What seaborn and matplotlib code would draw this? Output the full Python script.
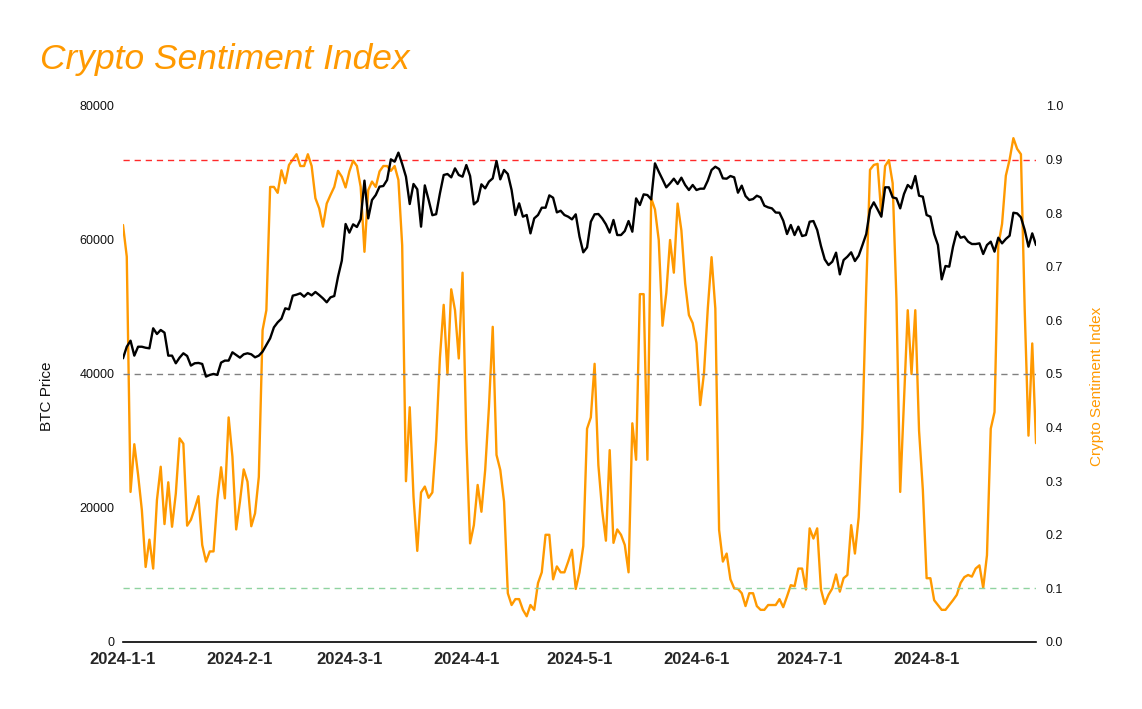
import pandas as pd
import seaborn as sns
import matplotlib.pyplot as plt

sns.set_style('white')
plt.rcParams['font.family'] = ['Liberation Sans', 'DejaVu Sans']

# daily values, 2024-01-01 .. 2024-08-30
dates = pd.date_range('2024-01-01', periods=243, freq='D')

btc_price = [
    42340, 44070, 44970, 42740, 44070, 44070, 43920, 43830, 46820, 45970,
    46570, 46170, 42740, 42740, 41600, 42440, 43090, 42690, 41250, 41600,
    41650, 41500, 39610, 39860, 40010, 39860, 41700, 42000, 42000, 43240,
    42840, 42440, 42940, 43090, 42940, 42490, 42740, 43340, 44320, 45320,
    46960, 47710, 48260, 49800, 49650, 51690, 51840, 52040, 51540, 52090,
    51740, 52240, 51790, 51290, 50700, 51440, 51640, 54530, 56920, 62390,
    61100, 62340, 61940, 63090, 68860, 63230, 65970, 66720, 67960, 68060,
    68960, 72040, 71690, 73040, 71350, 69450, 65370, 68360, 67570, 61990,
    68150, 66000, 63700, 63850, 66950, 69700, 69850, 69350, 70690, 69700,
    69450, 71190, 69550, 65320, 65820, 68310, 67710, 68710, 69200, 71790,
    69050, 70450, 69850, 67460, 63730, 65470, 63480, 63730, 60990, 63230,
    63730, 64820, 64820, 66660, 66310, 64120, 64370, 63730, 63480, 63080,
    63830, 60500, 58160, 58900, 62730, 63830, 63880, 63230, 62340, 61100,
    62990, 60740, 60740, 61340, 62830, 61240, 66210, 65220, 66810, 66710,
    66060, 71440, 70200, 69050, 67860, 68460, 69150, 68360, 69300, 68210,
    67460, 68210, 67460, 67660, 67660, 68860, 70450, 70940, 70590, 69200,
    69150, 69550, 69350, 67060, 68110, 66560, 65970, 66110, 66610, 66360,
    65120, 64870, 64720, 64100, 64070, 62880, 60890, 62240, 60740, 61990,
    60590, 60740, 62730, 62830, 61490, 59100, 57110, 56260, 56760, 58110,
    54870, 57010, 57510, 58160, 56860, 57660, 59250, 60890, 64570, 65620,
    64570, 63480, 67860, 67860, 66360, 66210, 64720, 66860, 68210, 67710,
    69550, 66610, 66460, 63730, 63480, 60890, 59250, 54130, 56120, 56020,
    59000, 61240, 60340, 60500, 59750, 59400, 59400, 59500, 57910, 59250,
    59750, 58260, 60340, 59500, 60150, 60640, 64070, 63970, 63380, 61490,
    59000, 60990, 59250,
]

sentiment = [
    0.778, 0.719, 0.280, 0.369, 0.312, 0.246, 0.140, 0.191, 0.137, 0.265,
    0.327, 0.220, 0.298, 0.215, 0.277, 0.380, 0.370, 0.217, 0.228, 0.249,
    0.272, 0.181, 0.150, 0.169, 0.169, 0.265, 0.326, 0.268, 0.419, 0.346,
    0.210, 0.262, 0.322, 0.299, 0.216, 0.240, 0.308, 0.582, 0.619, 0.849,
    0.849, 0.838, 0.880, 0.856, 0.890, 0.900, 0.910, 0.888, 0.888, 0.910,
    0.888, 0.828, 0.809, 0.775, 0.818, 0.834, 0.849, 0.879, 0.868, 0.848,
    0.878, 0.898, 0.888, 0.849, 0.728, 0.843, 0.859, 0.849, 0.878, 0.888,
    0.888, 0.879, 0.888, 0.862, 0.740, 0.300, 0.438, 0.271, 0.170, 0.279,
    0.290, 0.269, 0.279, 0.377, 0.530, 0.629, 0.499, 0.658, 0.619, 0.529,
    0.689, 0.380, 0.184, 0.218, 0.293, 0.243, 0.321, 0.439, 0.588, 0.349,
    0.321, 0.262, 0.091, 0.069, 0.080, 0.080, 0.060, 0.048, 0.069, 0.060,
    0.110, 0.130, 0.200, 0.200, 0.117, 0.141, 0.130, 0.130, 0.150, 0.172,
    0.099, 0.130, 0.179, 0.398, 0.419, 0.519, 0.330, 0.246, 0.189, 0.358,
    0.185, 0.210, 0.200, 0.181, 0.130, 0.408, 0.340, 0.649, 0.649, 0.340,
    0.828, 0.807, 0.750, 0.590, 0.651, 0.750, 0.689, 0.818, 0.768, 0.669,
    0.610, 0.595, 0.558, 0.442, 0.502, 0.622, 0.718, 0.622, 0.209, 0.150,
    0.165, 0.117, 0.100, 0.099, 0.091, 0.067, 0.091, 0.091, 0.067, 0.060,
    0.060, 0.069, 0.069, 0.069, 0.080, 0.065, 0.085, 0.106, 0.104, 0.137,
    0.137, 0.098, 0.212, 0.193, 0.212, 0.098, 0.071, 0.088, 0.100, 0.126,
    0.094, 0.119, 0.125, 0.218, 0.165, 0.233, 0.400, 0.660, 0.881, 0.890,
    0.892, 0.797, 0.888, 0.899, 0.856, 0.640, 0.280, 0.450, 0.619, 0.500,
    0.619, 0.394, 0.284, 0.119, 0.119, 0.078, 0.069, 0.060, 0.060, 0.069,
    0.078, 0.088, 0.110, 0.121, 0.125, 0.122, 0.137, 0.143, 0.101, 0.162,
    0.398, 0.429, 0.740, 0.780, 0.870, 0.900, 0.940, 0.920, 0.910, 0.620,
    0.385, 0.557, 0.371,
]

month_ticks = pd.date_range('2024-01-01', '2024-08-01', freq='MS')
price_ticks = [0, 20000, 40000, 60000, 80000]
index_ticks = [0.0, 0.1, 0.2, 0.3, 0.4, 0.5, 0.6, 0.7, 0.8, 0.9, 1.0]
levels = [0.9, 0.5, 0.1]
level_colors = ['#ff2a2a', '#808080', '#8fd3a0']

df = pd.DataFrame({'date': dates, 'btc': btc_price, 'index': sentiment})
orange = '#ff9900'

fig = plt.figure(figsize=(11.42, 7.09), dpi=100)
ax = fig.add_axes([0.1077, 0.0945, 0.7995, 0.756])
ax2 = ax.twinx()

#sentiment on right axis
sns.lineplot(data=df, x='date', y='index', ax=ax2, color=orange, lw=1.7)
for lv, c in zip(levels, level_colors):
    ax2.axhline(lv, color=c, ls=(0, (4.5, 3.5)), lw=1.0)
ax2.set_ylim(0, 1)
ax2.set_yticks(index_ticks)
ax2.set_yticklabels(['%.1f' % t for t in index_ticks])
ax2.set_ylabel('')
ax2.tick_params(axis='y', length=0, labelsize=9, pad=7, colors='#111111')

#price on left axis, drawn above
sns.lineplot(data=df, x='date', y='btc', ax=ax, color='black', lw=1.7)
ax.set_zorder(ax2.get_zorder() + 1)
ax.patch.set_visible(False)
ax.set_ylim(0, 80000)
ax.set_yticks(price_ticks)
ax.set_yticklabels([str(t) for t in price_ticks])
ax.set_ylabel('')
ax.set_xlabel('')
ax.set_xlim(dates[0], dates[-1])
ax.set_xticks(month_ticks)
ax.set_xticklabels(['%d-%d-%d' % (d.year, d.month, d.day) for d in month_ticks],
                   fontweight='bold')
ax.tick_params(axis='y', length=0, labelsize=9, pad=6, colors='#111111')
ax.tick_params(axis='x', length=0, labelsize=12, pad=7)

for a in [ax, ax2]:
    for s in ['top', 'left', 'right']:
        a.spines[s].set_visible(False)
ax2.spines['bottom'].set_visible(False)
ax.spines['bottom'].set_color('black')
ax.spines['bottom'].set_linewidth(1.2)

fig.text(40 / 1142, 1 - 69 / 709, 'Crypto Sentiment Index', fontsize=25.5,
         style='italic', color=orange, va='baseline', ha='left')
fig.text(47 / 1142, 1 - 396 / 709, 'BTC Price', rotation=90, fontsize=11,
         va='center', ha='center', color='#111111')
fig.text(1097 / 1142, 1 - 386 / 709, 'Crypto Sentiment Index', rotation=90,
         fontsize=11, va='center', ha='center', color=orange)

fig.savefig('out.png', dpi=100)
